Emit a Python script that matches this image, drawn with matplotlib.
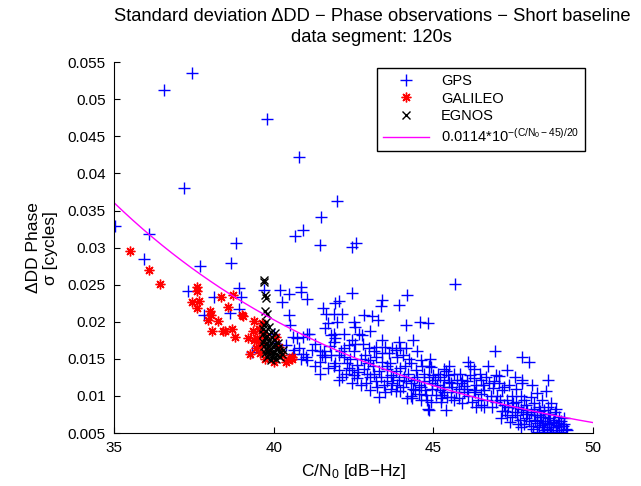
import numpy as np
import matplotlib
matplotlib.use("Agg")
import matplotlib.pyplot as plt

plt.rcParams["font.family"] = ["Liberation Sans", "DejaVu Sans"]
plt.rcParams["mathtext.fontset"] = "custom"
plt.rcParams["mathtext.rm"] = "Liberation Sans"
plt.rcParams["mathtext.it"] = "Liberation Sans"
plt.rcParams["mathtext.default"] = "regular"

# =========================================================
# DATA
# =========================================================

gps_cn0 = [
    36.57, 37.45, 39.80, 40.80, 37.20, 41.99, 41.49, 40.92, 40.66, 41.46,
    42.44, 42.57, 35.03, 36.08, 35.95, 37.68, 38.82, 38.66, 37.30, 38.12,
    38.90, 38.98, 38.90, 38.64, 37.83, 40.21, 40.47, 40.26, 40.87, 40.87,
    41.05, 40.49, 40.52, 40.61, 40.92, 41.05, 39.32, 40.37, 40.61, 40.92,
    39.69, 45.67, 41.55, 41.65, 41.10, 40.73, 40.00, 40.05, 40.63, 41.00,
    41.46, 41.62, 41.46, 41.05, 41.71, 42.46, 41.93, 42.04, 42.14, 41.88,
    43.40, 43.35, 44.16, 43.92, 42.82, 43.08, 43.26, 41.98, 42.51, 42.56,
    41.62, 44.13, 44.58, 44.83, 41.88, 41.78, 41.93, 41.88, 42.19, 42.67,
    42.77, 43.03, 42.46, 42.35, 44.37, 43.92, 42.98, 43.19, 43.50, 43.82,
    43.97, 42.51, 41.57, 41.52, 41.78, 42.04, 42.19, 42.72, 43.03, 43.19,
    43.40, 44.29, 44.60, 44.92, 45.33, 41.88, 42.04, 41.93, 42.46, 42.51,
    42.61, 42.82, 42.93, 43.03, 43.30, 43.56, 43.66, 43.82, 43.92, 44.08,
    44.29, 43.03, 43.30, 43.66, 43.82, 43.97, 44.18, 44.34, 44.60, 44.76,
    44.92, 45.07, 45.23, 45.44, 44.83, 44.44, 44.60, 46.92, 47.79, 48.00,
    46.09, 46.27, 45.40, 46.95, 47.06, 48.58, 47.79, 47.79, 46.27, 46.48,
    45.75, 45.86, 45.33, 45.49, 47.37, 47.58, 46.88, 47.16, 48.25, 48.53,
    46.07, 46.27, 46.48, 45.28, 45.54, 45.80, 46.69, 46.95, 47.32, 47.48,
    47.74, 47.95, 48.16, 48.31, 48.47, 48.58, 48.16, 48.37, 48.63, 48.79,
    48.95, 47.74, 48.11, 48.47, 48.89, 49.15, 47.11, 47.32, 47.63, 47.90,
    48.00, 48.26, 48.42, 48.63, 48.84, 49.00, 41.46, 42.04, 44.86, 45.39,
    44.13, 44.86, 45.10, 45.20, 45.60, 45.70, 45.95, 46.10, 46.35, 46.60,
    46.75, 47.00, 47.20, 47.45, 47.60, 47.85, 48.05, 48.40, 48.70, 48.50,
    48.70, 48.90, 49.05, 48.20, 47.95, 47.55, 47.25, 46.85, 46.50, 46.20,
    45.90, 44.95, 44.70, 44.50, 44.20, 43.70, 43.45, 43.20, 42.90, 43.10,
    43.65, 43.85, 44.10, 44.45, 44.70, 45.00, 45.20, 42.30, 42.60, 42.20,
    42.80, 43.40, 43.60, 44.05, 44.50, 41.75, 41.30, 41.20, 40.80, 40.85,
    41.30, 41.70, 42.25, 42.75, 43.50, 44.05, 48.80, 49.10, 48.45, 48.25,
    48.65, 45.85, 46.45, 46.70, 47.30, 47.55, 47.05, 48.10, 48.35, 47.40,
    47.70,
    # denser band
    42.10, 42.40, 42.55, 42.85, 42.35, 42.65, 42.95, 42.15, 42.45,
    43.15, 43.35, 43.55, 43.75, 43.95, 43.25, 43.55, 43.85, 43.40, 43.70, 43.15,
    44.15, 44.35, 44.55, 44.75, 44.25, 44.40, 44.65, 44.85, 44.95, 44.30, 44.55,
    44.80, 44.90,
    45.05, 45.15, 45.30, 45.45, 45.55, 45.65, 45.80, 45.90, 45.35, 45.65, 45.95,
    45.50, 45.25,
    46.05, 46.15, 46.30, 46.40, 46.55, 46.65, 46.80, 46.90, 46.60, 46.35, 46.15,
    47.10, 47.20, 47.35, 47.50, 47.65, 47.80, 47.90, 47.45, 47.65, 47.85, 47.15,
    47.75,
    48.05, 48.15, 48.25, 48.35, 48.45, 48.55, 48.65, 48.75, 48.85, 48.95, 49.10,
    49.20, 48.30, 48.55, 48.75, 49.00, 48.05, 48.60, 48.85,
]

gps_sigma = [
    0.0512, 0.0535, 0.0474, 0.0422, 0.0381, 0.0363, 0.0341, 0.0324, 0.0315, 0.0304,
    0.0301, 0.0306, 0.0329, 0.0319, 0.0284, 0.0275, 0.0306, 0.0279, 0.0241, 0.0234,
    0.0245, 0.0233, 0.0217, 0.0212, 0.0209, 0.0243, 0.0238, 0.0227, 0.0247, 0.0240,
    0.0231, 0.0209, 0.0195, 0.0180, 0.0180, 0.0183, 0.0159, 0.0169, 0.0157, 0.0157,
    0.0243, 0.0251, 0.0218, 0.0210, 0.0184, 0.0178, 0.0184, 0.0171, 0.0162, 0.0153,
    0.0160, 0.0153, 0.0146, 0.0148, 0.0198, 0.0239, 0.0225, 0.0228, 0.0211, 0.0211,
    0.0229, 0.0221, 0.0236, 0.0223, 0.0209, 0.0208, 0.0202, 0.0200, 0.0200, 0.0193,
    0.0191, 0.0196, 0.0200, 0.0198, 0.0184, 0.0182, 0.0178, 0.0173, 0.0184, 0.0184,
    0.0182, 0.0187, 0.0175, 0.0169, 0.0175, 0.0173, 0.0164, 0.0166, 0.0166, 0.0162,
    0.0164, 0.0160, 0.0160, 0.0155, 0.0155, 0.0155, 0.0153, 0.0150, 0.0148, 0.0153,
    0.0146, 0.0144, 0.0148, 0.0139, 0.0137, 0.0140, 0.0135, 0.0144, 0.0135, 0.0128,
    0.0124, 0.0137, 0.0130, 0.0126, 0.0133, 0.0137, 0.0128, 0.0133, 0.0121, 0.0126,
    0.0117, 0.0108, 0.0099, 0.0110, 0.0106, 0.0106, 0.0097, 0.0097, 0.0094, 0.0101,
    0.0092, 0.0101, 0.0097, 0.0099, 0.0083, 0.0108, 0.0112, 0.0161, 0.0152, 0.0146,
    0.0146, 0.0136, 0.0133, 0.0128, 0.0127, 0.0121, 0.0121, 0.0117, 0.0124, 0.0121,
    0.0121, 0.0117, 0.0121, 0.0119, 0.0115, 0.0110, 0.0111, 0.0108, 0.0104, 0.0107,
    0.0110, 0.0108, 0.0103, 0.0101, 0.0099, 0.0097, 0.0094, 0.0092, 0.0094, 0.0085,
    0.0083, 0.0081, 0.0090, 0.0085, 0.0081, 0.0076, 0.0074, 0.0072, 0.0070, 0.0068,
    0.0072, 0.0058, 0.0056, 0.0054, 0.0054, 0.0056, 0.0070, 0.0074, 0.0074, 0.0070,
    0.0066, 0.0063, 0.0061, 0.0063, 0.0061, 0.0066, 0.0130, 0.0121, 0.0081, 0.0081,
    0.0164, 0.0140, 0.0115, 0.0108, 0.0112, 0.0105, 0.0113, 0.0100, 0.0115, 0.0108,
    0.0118, 0.0100, 0.0088, 0.0100, 0.0092, 0.0095, 0.0098, 0.0095, 0.0090, 0.0066,
    0.0058, 0.0064, 0.0060, 0.0068, 0.0075, 0.0078, 0.0080, 0.0085, 0.0088, 0.0092,
    0.0090, 0.0110, 0.0120, 0.0125, 0.0130, 0.0118, 0.0115, 0.0120, 0.0118, 0.0140,
    0.0145, 0.0152, 0.0140, 0.0135, 0.0130, 0.0128, 0.0125, 0.0145, 0.0142, 0.0165,
    0.0170, 0.0175, 0.0158, 0.0155, 0.0160, 0.0168, 0.0170, 0.0162, 0.0165, 0.0150,
    0.0140, 0.0138, 0.0130, 0.0115, 0.0105, 0.0112, 0.0078, 0.0070, 0.0058, 0.0052,
    0.0052, 0.0130, 0.0130, 0.0140, 0.0135, 0.0125, 0.0118, 0.0115, 0.0080, 0.0065,
    0.0068,
    # denser band
    0.0160, 0.0150, 0.0170, 0.0155, 0.0138, 0.0132, 0.0145, 0.0125, 0.0118,
    0.0130, 0.0125, 0.0140, 0.0125, 0.0138, 0.0112, 0.0120, 0.0115, 0.0158, 0.0165, 0.0160,
    0.0120, 0.0110, 0.0115, 0.0108, 0.0150, 0.0122, 0.0140, 0.0125, 0.0118, 0.0100, 0.0102,
    0.0095, 0.0150,
    0.0122, 0.0130, 0.0112, 0.0128, 0.0118, 0.0130, 0.0110, 0.0122, 0.0105, 0.0095, 0.0105,
    0.0140, 0.0092,
    0.0120, 0.0128, 0.0105, 0.0095, 0.0115, 0.0125, 0.0100, 0.0120, 0.0085, 0.0085, 0.0140,
    0.0095, 0.0112, 0.0085, 0.0090, 0.0085, 0.0078, 0.0088, 0.0072, 0.0062, 0.0062, 0.0080,
    0.0100,
    0.0078, 0.0082, 0.0074, 0.0066, 0.0072, 0.0062, 0.0075, 0.0065, 0.0058, 0.0060, 0.0062,
    0.0054, 0.0058, 0.0056, 0.0052, 0.0052, 0.0060, 0.0085, 0.0082,
]

galileo_cn0 = [
    35.50, 36.10, 36.44, 37.59, 37.61, 37.44, 37.65, 37.61, 38.36, 38.56,
    38.74, 37.99, 38.04, 37.94, 38.27, 39.01, 38.06, 38.41, 38.48, 38.69,
    38.78, 39.37, 39.35, 39.21, 39.37, 39.63, 39.74, 39.63, 39.58, 40.08,
    40.16, 40.57, 39.04, 39.48, 39.58, 39.27, 39.74, 40.37, 40.57, 40.00,
    39.55, 39.65, 39.45, 39.85, 40.25, 40.45,
]

galileo_sigma = [
    0.0296, 0.0270, 0.0251, 0.0247, 0.0242, 0.0226, 0.0228, 0.0219, 0.0234, 0.0220,
    0.0236, 0.0214, 0.0209, 0.0202, 0.0201, 0.0209, 0.0187, 0.0187, 0.0188, 0.0190,
    0.0179, 0.0201, 0.0187, 0.0178, 0.0176, 0.0198, 0.0180, 0.0169, 0.0158, 0.0180,
    0.0166, 0.0153, 0.0208, 0.0178, 0.0171, 0.0157, 0.0150, 0.0146, 0.0150, 0.0146,
    0.0190, 0.0185, 0.0165, 0.0160, 0.0155, 0.0148,
]

egnos_cn0 = [
    39.69, 39.71, 39.74, 39.77, 39.74, 39.79, 39.77, 39.70, 39.85, 39.65,
    39.75, 39.90, 39.68, 39.80, 39.95, 39.72, 39.86, 40.00, 39.66, 39.78,
    39.92, 40.05, 39.70, 39.83, 39.97, 40.12, 39.75, 39.88, 40.02, 40.18,
    39.72, 39.85, 39.98, 40.10, 40.25, 39.80, 39.95, 40.08, 40.20, 39.90,
    40.30, 40.15, 40.05,
]

egnos_sigma = [
    0.0257, 0.0254, 0.0236, 0.0232, 0.0214, 0.0211, 0.0200, 0.0195, 0.0193, 0.0190,
    0.0188, 0.0186, 0.0183, 0.0181, 0.0180, 0.0178, 0.0176, 0.0175, 0.0173, 0.0172,
    0.0171, 0.0170, 0.0168, 0.0167, 0.0166, 0.0165, 0.0163, 0.0162, 0.0161, 0.0160,
    0.0158, 0.0157, 0.0156, 0.0155, 0.0157, 0.0153, 0.0152, 0.0150, 0.0152, 0.0148,
    0.0162, 0.0172, 0.0185,
]

# model from the legend
model_cn0 = np.linspace(35, 50, 200)
model_sigma = 0.0114 * 10 ** (-(model_cn0 - 45) / 20)

# =========================================================
# PLOT
# =========================================================

fig = plt.figure(figsize=(6.41, 4.86), dpi=100)
ax = fig.add_axes([0.178, 0.109, 0.747, 0.763])

ax.plot(gps_cn0, gps_sigma, linestyle="none", marker="+",
        color="blue", markersize=8, markeredgewidth=1.0, label="GPS")
ax.plot(galileo_cn0, galileo_sigma, linestyle="none", marker=(8, 2, 0),
        color="red", markersize=7, markeredgewidth=1.0, label="GALILEO")
ax.plot(egnos_cn0, egnos_sigma, linestyle="none", marker="x",
        color="black", markersize=6, markeredgewidth=1.0, label="EGNOS")
ax.plot(model_cn0, model_sigma, color="magenta", linewidth=1.0,
        label=r"0.0114*10$^{-(C/N_0-45)/20}$")

ax.set_xlim(35, 50)
ax.set_ylim(0.005, 0.055)
ax.set_xticks([35, 40, 45, 50])
ax.set_yticks(np.arange(0.005, 0.0551, 0.005))
ax.set_yticklabels(["0.005", "0.01", "0.015", "0.02", "0.025", "0.03",
                    "0.035", "0.04", "0.045", "0.05", "0.055"])

ax.spines["top"].set_visible(False)
ax.spines["right"].set_visible(False)
for s in ("left", "bottom"):
    ax.spines[s].set_linewidth(0.8)
ax.tick_params(direction="in", length=4, width=0.8, labelsize=11, pad=6)

ax.set_xlabel("C/N$_0$ [dB\u2212Hz]", fontsize=12.5, labelpad=5)
ax.set_ylabel("\u0394DD Phase\n\u03c3 [cycles]", fontsize=12.5, labelpad=7)

fig.text(0.581, 0.967, "Standard deviation \u0394DD \u2212 Phase observations \u2212 Short baseline",
         ha="center", va="center", fontsize=13.2)
fig.text(0.579, 0.922, "data segment: 120s", ha="center", va="center", fontsize=13.2)

leg = ax.legend(loc="upper left", bbox_to_anchor=(0.588, 0.860),
                bbox_transform=fig.transFigure, borderaxespad=0,
                fancybox=False, edgecolor="black", framealpha=1,
                fontsize=10.5, handlelength=3.2, labelspacing=0.25,
                borderpad=0.4, handletextpad=0.8)
leg.get_frame().set_linewidth(1.0)

fig.savefig("out.png", dpi=100)
